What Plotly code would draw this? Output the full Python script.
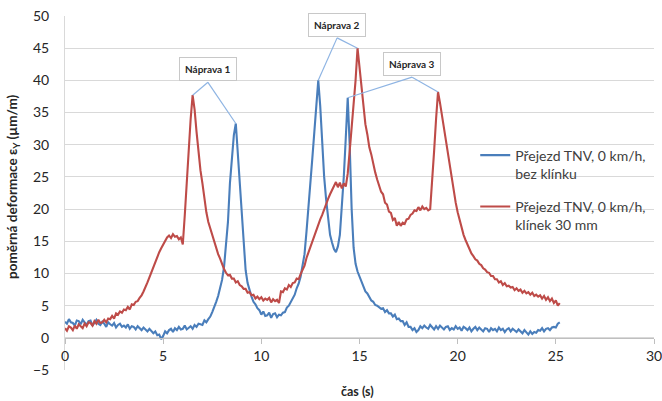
import numpy as np
import plotly.graph_objects as go

# time axis (s), 0.1 s step
t_start = 0.0
t_step = 0.1

# Přejezd TNV, 0 km/h, bez klínku (µm/m)
blue_vals = [
    2.5, 2.2, 2.9, 2.4, 2.3, 1.9, 2.7, 2.6, 2.1, 2.8,
    2.4, 2.0, 2.6, 2.7, 1.9, 2.3, 2.8, 2.2, 2.0, 2.5,
    2.2, 1.7, 2.4, 2.1, 1.9, 2.3, 1.6, 2.0, 2.2, 1.7,
    1.9, 1.6, 2.1, 1.4, 1.8, 1.7, 1.3, 1.8, 1.5, 1.2,
    1.6, 1.3, 1.0, 1.4, 1.1, 0.7, 1.0, 0.4, 0.5, -0.2,
    0.3, 1.0, 0.7, 1.2, 1.4, 0.9, 1.5, 1.2, 1.7, 1.3,
    1.4, 1.9, 1.3, 1.6, 1.8, 1.4, 2.0, 1.7, 2.2, 2.1,
    2.0, 2.7, 2.4, 2.9, 3.3, 4.0, 4.7, 5.6, 6.5, 7.6,
    9.0, 11.0, 14.0, 18.0, 24.0, 28.0, 31.5, 33.3, 28.5, 23.5,
    19.0, 14.5, 10.5, 8.5, 7.2, 6.4, 5.6, 5.2, 4.6, 4.3,
    3.6, 4.1, 3.4, 3.5, 3.9, 3.1, 3.7, 3.8, 3.2, 3.6,
    3.5, 3.9, 4.0, 4.7, 5.0, 5.5, 6.1, 6.7, 7.7, 8.4,
    9.5, 11.0, 13.0, 16.5, 20.0, 24.0, 28.0, 32.0, 36.0, 40.0,
    36.0, 30.0, 25.0, 21.5, 18.5, 16.0, 14.8, 13.8, 13.3, 14.2,
    16.0, 20.0, 25.0, 31.0, 37.3, 30.0, 20.0, 14.0, 11.5, 10.3,
    9.5, 8.6, 8.0, 7.2, 6.9, 6.3, 5.8, 5.6, 5.1, 5.0,
    4.7, 4.5, 4.6, 4.0, 4.3, 3.8, 3.8, 3.3, 3.6, 2.9,
    3.0, 2.6, 2.6, 2.0, 2.4, 1.7, 1.7, 1.2, 1.5, 0.9,
    1.2, 1.8, 1.5, 1.9, 1.6, 1.4, 2.0, 1.7, 1.3, 1.8,
    1.4, 1.9, 1.6, 1.3, 1.7, 1.8, 1.2, 1.5, 1.3, 1.8,
    1.4, 1.6, 1.1, 1.7, 1.5, 1.2, 1.6, 1.0, 1.4, 1.7,
    1.2, 1.6, 1.3, 1.0, 1.5, 1.4, 0.9, 1.5, 1.2, 1.4,
    1.0, 1.6, 1.2, 1.4, 0.9, 1.3, 1.5, 1.0, 1.4, 1.2,
    0.9, 1.3, 1.0, 0.7, 1.2, 0.8, 0.5, 1.0, 0.6, 0.9,
    0.8, 1.2, 1.1, 1.5, 1.0, 1.4, 1.5, 1.2, 1.6, 1.7,
    1.6, 2.2, 2.4,
]

# Přejezd TNV, 0 km/h, klínek 30 mm (µm/m)
red_vals = [
    1.5, 1.1, 1.8, 1.6, 1.2, 1.9, 1.4, 2.1, 1.8, 1.5,
    2.2, 1.8, 2.4, 2.3, 1.9, 2.6, 2.2, 2.8, 2.3, 2.4,
    2.8, 2.4, 3.0, 2.9, 3.4, 3.0, 3.8, 3.6, 4.1, 3.9,
    4.4, 4.3, 4.8, 4.4, 5.2, 5.1, 5.6, 5.7, 6.2, 6.6,
    7.2, 7.8, 8.6, 9.4, 10.2, 11.0, 11.9, 12.5, 13.3, 13.9,
    14.5, 15.0, 15.6, 15.9, 15.5, 16.1, 15.7, 15.8, 15.3, 15.6,
    14.5, 19.0, 24.5, 29.5, 34.0, 37.7, 35.5, 32.0, 28.5, 26.0,
    24.0, 21.5, 19.5, 18.0, 17.0, 15.8, 15.0, 14.2, 13.0, 12.3,
    11.4, 10.7, 10.1, 9.7, 9.8, 9.2, 9.2, 8.6, 8.8, 8.2,
    8.0, 7.6, 7.6, 7.0, 7.1, 6.6, 6.7, 6.1, 6.4, 6.0,
    6.3, 5.8, 6.1, 5.9, 6.2, 5.5, 6.0, 5.7, 5.9, 5.4,
    7.2, 7.1, 7.7, 7.5, 8.2, 7.9, 8.5, 8.6, 9.2, 9.1,
    9.9, 10.6, 11.2, 12.4, 13.3, 14.1, 15.0, 15.8, 16.8, 17.5,
    18.4, 19.1, 20.0, 20.7, 21.6, 22.3, 23.0, 23.5, 24.2, 23.4,
    24.1, 23.2, 24.0, 23.5, 25.5, 29.0, 32.3, 36.0, 40.0, 45.0,
    42.0, 38.5, 36.2, 33.2, 31.6, 29.6, 28.5, 26.8, 25.7, 24.6,
    23.8, 22.7, 22.3, 21.0, 20.7, 19.6, 19.4, 18.3, 18.6, 17.4,
    18.0, 17.4, 17.9, 17.7, 18.4, 18.5, 19.1, 19.3, 19.8, 19.7,
    20.3, 19.8, 20.4, 20.0, 20.2, 19.8, 20.0, 24.0, 29.0, 34.0,
    38.2, 36.5, 34.5, 33.0, 31.0, 29.0, 26.5, 24.5, 22.8, 21.0,
    19.5, 18.2, 17.1, 16.0, 15.2, 14.5, 13.7, 13.1, 12.7, 12.2,
    12.0, 11.5, 11.3, 10.8, 10.6, 10.2, 10.1, 9.6, 9.6, 9.1,
    9.1, 8.6, 8.8, 8.2, 8.5, 8.0, 8.1, 7.8, 7.9, 7.4,
    7.7, 7.3, 7.5, 7.0, 7.3, 6.9, 7.1, 6.7, 7.0, 6.5,
    6.7, 6.4, 6.6, 6.1, 6.5, 5.9, 6.3, 5.7, 6.1, 5.4,
    5.8, 5.0, 5.4,
]

series_names = [
    "Přejezd TNV, 0 km/h,<br>bez klínku",
    "Přejezd TNV, 0 km/h,<br>klínek 30 mm",
]

x_ticks = [0, 5, 10, 15, 20, 25, 30]
y_ticks = [-5, 0, 5, 10, 15, 20, 25, 30, 35, 40, 45, 50]

# callout labels: text, anchor point (time, value), windows to find peaks
callout_texts = ["Náprava 1", "Náprava 2", "Náprava 3"]
callout_anchor_t = [7.28, 13.86, 17.68]
callout_anchor_v = [39.7, 46.6, 40.5]
callout_blue_win = [(7.5, 10.0), (12.0, 13.5), (14.0, 15.0)]
callout_red_win = [(5.5, 8.0), (14.0, 16.0), (18.0, 20.0)]

BLUE = "#4a7ebb"
RED = "#be4b48"
LEADER = "#8eb4e3"
FONT = "Lato"

t_blue = t_start + t_step * np.arange(len(blue_vals))
t_red = t_start + t_step * np.arange(len(red_vals))
blue = np.array(blue_vals)
red = np.array(red_vals)

fig = go.Figure()
fig.add_trace(go.Scatter(x=t_blue, y=blue, mode="lines", name=series_names[0],
                         legendgroup="a", line=dict(color=BLUE, width=2.1)))
fig.add_trace(go.Scatter(x=t_red, y=red, mode="lines", name=series_names[1],
                         legendgroup="b", line=dict(color=RED, width=2.1)))


def peak(tt, vv, win):
    m = (tt >= win[0]) & (tt <= win[1])
    i = np.argmax(np.where(m, vv, -np.inf))
    return tt[i], vv[i]


for txt, at, av, bw, rw in zip(callout_texts, callout_anchor_t, callout_anchor_v,
                               callout_blue_win, callout_red_win):
    for tt, vv, w in ((t_blue, blue, bw), (t_red, red, rw)):
        pt, pv = peak(tt, vv, w)
        fig.add_shape(type="line", x0=at, y0=av, x1=pt, y1=pv, xref="x", yref="y",
                      line=dict(color=LEADER, width=1.2), layer="above")
    fig.add_annotation(x=at, y=av, xref="x", yref="y", text="<b>" + txt + "</b>",
                       showarrow=False, yanchor="bottom", xanchor="center", yshift=1,
                       font=dict(family=FONT, size=10, color="#262626"),
                       bgcolor="white", bordercolor="#c8c8c8", borderwidth=1, borderpad=5)

fig.add_annotation(x=0.496, y=-0.062, xref="paper", yref="paper", text="<b>čas (s)</b>",
                   showarrow=False, xanchor="center", yanchor="middle",
                   font=dict(family=FONT, size=12.5, color="#262626"))
fig.add_annotation(x=-0.0883, y=0.517, xref="paper", yref="paper",
                   text="<b>poměrná deformace ε<sub>Y</sub> (µm/m)</b>",
                   showarrow=False, textangle=-90, xanchor="center", yanchor="middle",
                   font=dict(family=FONT, size=13.5, color="#262626"))

fig.update_layout(
    width=662, height=401,
    margin=dict(l=65, r=8, t=16, b=31, autoexpand=False),
    paper_bgcolor="white", plot_bgcolor="white",
    font=dict(family=FONT, color="#262626"),
    showlegend=True,
    legend=dict(x=0.6965, y=0.651, xanchor="left", yanchor="top", valign="top",
                bgcolor="rgba(0,0,0,0)", itemwidth=30, tracegroupgap=12,
                font=dict(family=FONT, size=14, color="#404040")),
    xaxis=dict(range=[0, 30], tickvals=x_ticks, anchor="free", position=5 / 55,
               automargin=False, ticklabeloverflow="allow",
               showgrid=False, zeroline=False, showline=True, linecolor="#bfbfbf",
               linewidth=1, ticks="outside", ticklen=5, tickcolor="#bfbfbf",
               tickfont=dict(family=FONT, size=14, color="#262626"),
               tickprefix="<b>", ticksuffix="</b>"),
    yaxis=dict(range=[-5, 50], tickvals=y_ticks, showgrid=True, gridcolor="#d9d9d9",
               automargin=False, ticklabeloverflow="allow",
               gridwidth=1, zeroline=False, showline=True, linecolor="#d9d9d9",
               ticks="", tickfont=dict(family=FONT, size=14, color="#262626"),
               tickprefix="<b>", ticksuffix="</b>", ticklabelstandoff=12),
)

fig.write_html("out.html", config={"displayModeBar": False},
               post_script="document.body.style.margin='0';")
